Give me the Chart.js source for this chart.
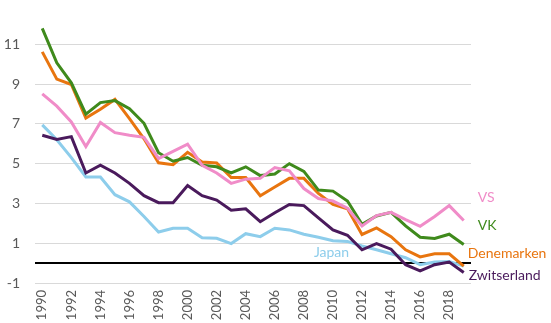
<!DOCTYPE html>
<html>
<head>
<meta charset="utf-8">
<script src="https://cdn.jsdelivr.net/npm/chart.js@4"></script>
<style>
  html, body { margin: 0; padding: 0; background: #fff; }
  #wrap { width: 551px; height: 323px; }
</style>
</head>
<body>
<div id="wrap"><canvas id="chart" width="551" height="323"></canvas></div>
<script>
const years = [];
for (let y = 1990; y <= 2019; y++) years.push(String(y));

const yTicks = [-1, 1, 3, 5, 7, 9, 11];

const vs = [8.51, 7.89, 7.1, 5.86, 7.07, 6.56, 6.43, 6.32, 5.26, 5.62, 5.98, 4.92, 4.53, 4.01, 4.22, 4.26, 4.8, 4.64, 3.75, 3.25, 3.12, 2.76, 1.87, 2.39, 2.55, 2.19, 1.85, 2.34, 2.89, 2.14];
const vk = [11.8, 10.07, 9.06, 7.49, 8.07, 8.17, 7.76, 7.03, 5.55, 5.12, 5.31, 4.92, 4.84, 4.53, 4.84, 4.4, 4.48, 5.0, 4.61, 3.67, 3.62, 3.12, 1.95, 2.37, 2.55, 1.87, 1.3, 1.24, 1.45, 0.94];
const denemarken = [10.62, 9.25, 8.98, 7.29, 7.73, 8.23, 7.26, 6.25, 5.04, 4.95, 5.57, 5.08, 5.03, 4.3, 4.3, 3.39, 3.83, 4.26, 4.26, 3.5, 2.95, 2.73, 1.44, 1.77, 1.33, 0.67, 0.31, 0.47, 0.47, -0.15];
const zwitserland = [6.43, 6.22, 6.36, 4.53, 4.92, 4.53, 4.01, 3.39, 3.04, 3.04, 3.9, 3.39, 3.17, 2.66, 2.73, 2.08, 2.53, 2.95, 2.89, 2.27, 1.67, 1.4, 0.67, 0.98, 0.7, -0.08, -0.39, -0.08, 0.05, -0.47];
const japan = [6.95, 6.2, 5.3, 4.33, 4.33, 3.44, 3.08, 2.34, 1.56, 1.75, 1.75, 1.28, 1.25, 0.98, 1.48, 1.33, 1.75, 1.67, 1.45, 1.3, 1.12, 1.09, 0.86, 0.67, 0.47, 0.27, -0.08, 0.05, 0.08, -0.15];

const colors = {
  VS: '#F08CC8',
  VK: '#3F8A1C',
  Denemarken: '#E8750F',
  Zwitserland: '#4A1A5C',
  Japan: '#8DCDEB'
};

// label spots: index of data point, pixel offset from it
const seriesLabels = [
  { name: 'VS', idx: 29, dx: 14, dy: -23 },
  { name: 'VK', idx: 29, dx: 14, dy: -19 },
  { name: 'Denemarken', idx: 29, dx: 4, dy: -13 },
  { name: 'Zwitserland', idx: 29, dx: 5, dy: 3 },
  { name: 'Japan', idx: 20, dx: -19, dy: 12 }
];

const FONT = 'Lato, "Open Sans", sans-serif';

function makeSet(name, data) {
  return {
    label: name,
    data: data,
    borderColor: colors[name],
    backgroundColor: colors[name],
    borderWidth: 3,
    pointRadius: 0,
    tension: 0,
    fill: false
  };
}

const zeroLine = {
  id: 'zeroLine',
  beforeDatasetsDraw(chart) {
    const { ctx, chartArea, scales } = chart;
    const y = scales.y.getPixelForValue(0);
    ctx.save();
    ctx.strokeStyle = '#000';
    ctx.lineWidth = 2;
    ctx.beginPath();
    ctx.moveTo(chartArea.left, y);
    ctx.lineTo(chartArea.right, y);
    ctx.stroke();
    ctx.restore();
  }
};

const endLabels = {
  id: 'endLabels',
  afterDatasetsDraw(chart) {
    const { ctx, scales } = chart;
    ctx.save();
    ctx.font = '14px ' + FONT;
    ctx.textBaseline = 'middle';
    ctx.textAlign = 'left';
    seriesLabels.forEach(l => {
      const ds = chart.data.datasets.find(d => d.label === l.name);
      const x = scales.x.getPixelForValue(l.idx) + l.dx;
      const y = scales.y.getPixelForValue(ds.data[l.idx]) + l.dy;
      ctx.fillStyle = colors[l.name];
      ctx.fillText(l.name, x, y);
    });
    ctx.restore();
  }
};

new Chart(document.getElementById('chart'), {
  type: 'line',
  data: {
    labels: years,
    datasets: [
      makeSet('VS', vs),
      makeSet('VK', vk),
      makeSet('Denemarken', denemarken),
      makeSet('Zwitserland', zwitserland),
      makeSet('Japan', japan)
    ]
  },
  options: {
    responsive: false,
    animation: false,
    layout: { padding: { top: 5, right: 80, bottom: 0, left: 0 } },
    plugins: {
      legend: { display: false },
      tooltip: { enabled: false }
    },
    scales: {
      x: {
        offset: true,
        grid: { display: false, drawTicks: false },
        border: { display: false },
        afterFit: s => { s.height = 40; },
        ticks: {
          autoSkip: false,
          maxRotation: 90,
          minRotation: 90,
          padding: 7,
          color: '#595959',
          font: { family: FONT, size: 13 },
          callback: function (val, i) {
            return i % 2 === 0 ? this.getLabelForValue(val) : '';
          }
        }
      },
      y: {
        min: -1,
        max: 12.05,
        afterBuildTicks: s => { s.ticks = yTicks.map(v => ({ value: v })); },
        afterFit: s => { s.width = 35; },
        grid: { color: '#D9D9D9', lineWidth: 1, drawTicks: false },
        border: { display: false },
        ticks: {
          padding: 15,
          color: '#595959',
          font: { family: FONT, size: 14 }
        }
      }
    }
  },
  plugins: [zeroLine, endLabels]
});
</script>
</body>
</html>
